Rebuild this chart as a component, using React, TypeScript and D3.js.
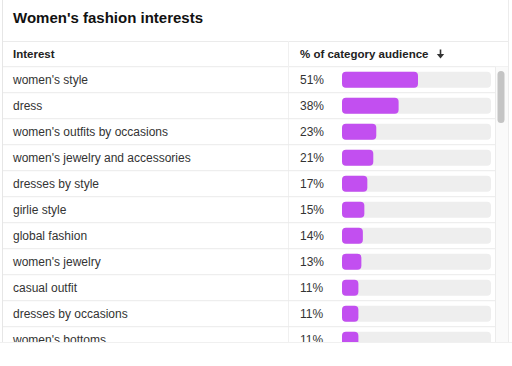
import React from "react";
import * as d3 from "d3";

const interests = [
  "women's style",
  "dress",
  "women's outfits by occasions",
  "women's jewelry and accessories",
  "dresses by style",
  "girlie style",
  "global fashion",
  "women's jewelry",
  "casual outfit",
  "dresses by occasions",
  "women's bottoms",
];
const shares = [51, 38, 23, 21, 17, 15, 14, 13, 11, 11, 11];
const title = "Women's fashion interests";
const colInterest = "Interest";
const colShare = "% of category audience";

const W = 512;
const H = 366;
const headerTop = 41;
const headerBottom = 66.7;
const rowH = 26;
const tableBottom = 342;
const font = "'Liberation Sans', Helvetica, Arial, sans-serif";

export default function App() {
  const x = d3.scaleLinear().domain([0, 100]).range([342, 491]);
  const y = d3
    .scaleBand<number>()
    .domain(d3.range(interests.length))
    .range([headerBottom, headerBottom + rowH * interests.length]);
  const barH = 16;
  const lineColor = "#ebebeb";
  return (
    <div style={{ position: "absolute", left: 0, top: 0 }}>
      <svg width={W} height={H} style={{ display: "block" }}>
        <defs>
          <clipPath id="tbl">
            <rect x={0} y={headerBottom} width={W} height={tableBottom - headerBottom} />
          </clipPath>
        </defs>
        <rect x={0} y={0} width={W} height={H} fill="#fff" />
        <line x1={2.5} x2={2.5} y1={0} y2={tableBottom} stroke="#e6e6e6" />
        <line x1={508.5} x2={508.5} y1={0} y2={tableBottom} stroke="#ececec" />
        <text x={13} y={23} fontFamily={font} fontWeight="bold" fontSize={15} fill="#111">
          {title}
        </text>
        <line x1={3} x2={508} y1={headerTop + 0.5} y2={headerTop + 0.5} stroke={lineColor} />
        <line x1={3} x2={508} y1={headerBottom} y2={headerBottom} stroke={lineColor} />
        <text x={13} y={58} fontFamily={font} fontWeight="bold" fontSize={11.5} fill="#222">
          {colInterest}
        </text>
        <text x={300} y={58} fontFamily={font} fontWeight="bold" fontSize={11.5} fill="#222">
          {colShare}
        </text>
        <path d="M440.5,49.5 L440.5,55" stroke="#333" strokeWidth={1.6} fill="none" />
        <path d="M436.8,54 L444.2,54 L440.5,58.5 Z" fill="#333" />
        <line x1={288.5} x2={288.5} y1={headerTop} y2={tableBottom} stroke="#f0f0f0" />
        <rect x={495} y={headerBottom} width={13} height={tableBottom - headerBottom} fill="#fafafa" />
        <line x1={495.5} x2={495.5} y1={headerBottom} y2={tableBottom} stroke="#ececec" />
        <rect x={497.5} y={71} width={7} height={52} rx={3.5} fill="#c4c4c4" />
        <g clipPath="url(#tbl)">
          {interests.map((name, i) => {
            const y0 = y(i)!;
            const cy = y0 + rowH / 2;
            return (
              <g key={name}>
                <line x1={3} x2={495} y1={y0 + rowH} y2={y0 + rowH} stroke={lineColor} />
                <text x={13} y={cy + 4} fontFamily={font} fontSize={12} fill="#333">
                  {name}
                </text>
                <text x={300} y={cy + 4} fontFamily={font} fontSize={12} fill="#333">
                  {shares[i]}%
                </text>
                <rect x={x(0)} y={cy - barH / 2} width={x(100) - x(0)} height={barH} rx={4} fill="#eeeeee" />
                <rect x={x(0)} y={cy - barH / 2} width={x(shares[i]) - x(0)} height={barH} rx={4} fill="#c24ff0" />
              </g>
            );
          })}
        </g>
        <line x1={0} x2={512} y1={tableBottom + 0.5} y2={tableBottom + 0.5} stroke="#f0f0f0" />
      </svg>
    </div>
  );
}
